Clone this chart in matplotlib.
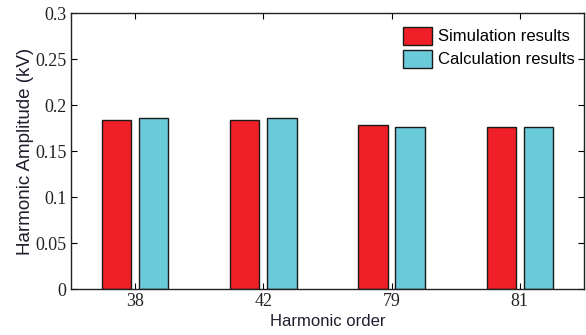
import matplotlib
matplotlib.use('Agg')
import matplotlib.pyplot as plt
import numpy as np

orders = ['38', '42', '79', '81']
simulation = [0.1837, 0.1840, 0.1780, 0.1765]
calculation = [0.1857, 0.1857, 0.1765, 0.1765]


def main():
    fig = plt.figure(figsize=(5.86, 3.35), dpi=100)
    ax = fig.add_axes([0.121, 0.137, 0.8756, 0.824])

    x = np.arange(1, len(orders) + 1)
    w = 0.23
    ax.bar(x - 0.145, simulation, w, color='#ee1f26', edgecolor='#1a1a1a', linewidth=1.0,
           label='Simulation results')
    ax.bar(x + 0.145, calculation, w, color='#6bcbdb', edgecolor='#1a1a1a', linewidth=1.0,
           label='Calculation results')

    ax.set_xlim(0.5, 4.5)
    ax.set_ylim(0, 0.3)
    ax.set_xticks(x)
    ax.set_xticklabels(orders)
    ax.set_yticks([0, 0.05, 0.1, 0.15, 0.2, 0.25, 0.3])
    ax.set_yticklabels(['0', '0.05', '0.1', '0.15', '0.2', '0.25', '0.3'])
    ax.tick_params(direction='in', top=True, right=True, length=4, width=0.8,
                   labelsize=13, pad=3)
    for lab in ax.get_xticklabels() + ax.get_yticklabels():
        lab.set_family('Liberation Serif')
        lab.set_color('#222222')
    for s in ax.spines.values():
        s.set_linewidth(1.0)
        s.set_color('#222222')

    ax.set_xlabel('Harmonic order', family='Liberation Sans', fontsize=12,
                  color='#1e1e30', labelpad=3)
    ax.set_ylabel('Harmonic Amplitude (kV)', family='Liberation Sans', fontsize=13.5,
                  color='#1e1e30', labelpad=1)

    ax.legend(loc='upper right', frameon=False, prop={'family': 'Liberation Sans', 'size': 12},
              handlelength=1.75, handleheight=1.3, handletextpad=0.35, labelspacing=0.3,
              borderaxespad=0.0, bbox_to_anchor=(0.995, 0.975))

    fig.savefig('out.png', dpi=100)


if __name__ == '__main__':
    main()
